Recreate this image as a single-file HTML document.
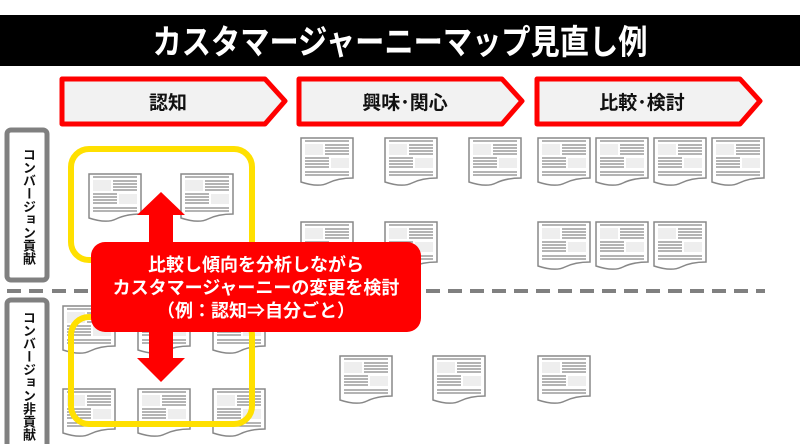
<!DOCTYPE html>
<html><head><meta charset="utf-8"><style>
html,body{margin:0;padding:0;background:#fff;width:800px;height:444px;overflow:hidden;position:relative}
svg text{font-family:"Liberation Sans","Noto Sans CJK JP",sans-serif;font-weight:bold}
.v{position:absolute;writing-mode:vertical-rl;white-space:nowrap;font-family:"Liberation Sans","Noto Sans CJK JP",sans-serif;font-weight:bold;font-size:13px;line-height:14px;color:#111;width:15px;left:20px}
</style></head><body>
<svg width="800" height="444" viewBox="0 0 800 444" xmlns="http://www.w3.org/2000/svg" style="position:absolute;left:0;top:0">
<defs>
<g id="doc">
<path d="M1,1 H53 V41 C44,41 36,42 28,46 C20,50 10,48 1,45 Z" fill="#fff" stroke="#888" stroke-width="1.5"/>
<g stroke="#888" stroke-width="1.2">
<line x1="5" y1="4" x2="49" y2="4"/>
<line x1="25" y1="8" x2="49" y2="8"/><line x1="25" y1="11" x2="49" y2="11"/><line x1="25" y1="14" x2="49" y2="14"/><line x1="25" y1="17" x2="49" y2="17"/>
<line x1="5" y1="21" x2="29" y2="21"/><line x1="5" y1="24" x2="29" y2="24"/><line x1="5" y1="27" x2="29" y2="27"/><line x1="5" y1="30" x2="29" y2="30"/>
<line x1="5" y1="35" x2="49" y2="35"/><line x1="5" y1="38" x2="49" y2="38"/>
</g>
<rect x="5" y="7" width="18" height="11" fill="#eee"/>
<rect x="31" y="21" width="18" height="10" fill="#eee"/>
</g>
</defs>
<rect x="0" y="15" width="800" height="51" fill="#000"/>
<text x="400" y="54" font-size="34" fill="#fff" text-anchor="middle" textLength="495" lengthAdjust="spacingAndGlyphs">カスタマージャーニーマップ見直し例</text>

<g fill="#f2f2f2" stroke="#f00" stroke-width="5" stroke-linejoin="round">
<path d="M62,79 H265 L285,101 L265,124 H62 Z"/>
<path d="M299,79 H502 L522,101 L502,124 H299 Z"/>
<path d="M537,79 H740 L760,101 L740,124 H537 Z"/>
</g>
<text x="168" y="109" font-size="19" text-anchor="middle" fill="#111">認知</text>
<text x="405" y="109" font-size="19" text-anchor="middle" fill="#111">興味･関心</text>
<text x="642" y="109" font-size="19" text-anchor="middle" fill="#111">比較･検討</text>

<rect x="7" y="130" width="40" height="150" rx="4" fill="#fff" stroke="#808080" stroke-width="5"/>
<rect x="7" y="300" width="40" height="160" rx="4" fill="#fff" stroke="#808080" stroke-width="5"/>

<line x1="52" y1="291" x2="765" y2="291" stroke="#808080" stroke-width="4" stroke-dasharray="14,8"/>
<line x1="7" y1="291" x2="47" y2="291" stroke="#808080" stroke-width="4" stroke-dasharray="14,8"/>

<g>
<use href="#doc" x="300" y="137"/><use href="#doc" x="384" y="137"/><use href="#doc" x="468" y="137"/>
<use href="#doc" x="537" y="137"/><use href="#doc" x="595" y="137"/><use href="#doc" x="653" y="137"/><use href="#doc" x="711" y="137"/>
<use href="#doc" x="300" y="221"/><use href="#doc" x="384" y="221"/>
<use href="#doc" x="537" y="221"/><use href="#doc" x="595" y="221"/><use href="#doc" x="653" y="221"/>
<use href="#doc" x="339" y="355"/><use href="#doc" x="432" y="355"/><use href="#doc" x="537" y="355"/>
<use href="#doc" x="62" y="305"/><use href="#doc" x="137" y="305"/><use href="#doc" x="212" y="305"/>
<use href="#doc" x="62" y="388"/><use href="#doc" x="137" y="388"/><use href="#doc" x="212" y="388"/>
<use href="#doc" x="88" y="173"/><use href="#doc" x="180" y="173"/>
</g>

<rect x="71" y="149" width="181" height="111" rx="18" fill="none" stroke="#ffe000" stroke-width="6"/>
<rect x="71" y="317" width="181" height="107" rx="18" fill="none" stroke="#ffe000" stroke-width="6"/>

<path d="M161,192 L185,215 H173 V358 H185 L161,382 L137,358 H149 V215 H137 Z" fill="#f00"/>

<rect x="91" y="242" width="330" height="90" rx="14" fill="#f00"/>
<g font-size="18" fill="#fff" text-anchor="middle">
<text x="256" y="271">比較し傾向を分析しながら</text>
<text x="256" y="294">カスタマージャーニーの変更を検討</text>
<text x="256" y="317">（例：認知⇒自分ごと）</text>
</g>
</svg>
<div class="v" style="top:148px">コンバージョン貢献</div>
<div class="v" style="top:311px">コンバージョン非貢献</div>
</body></html>
